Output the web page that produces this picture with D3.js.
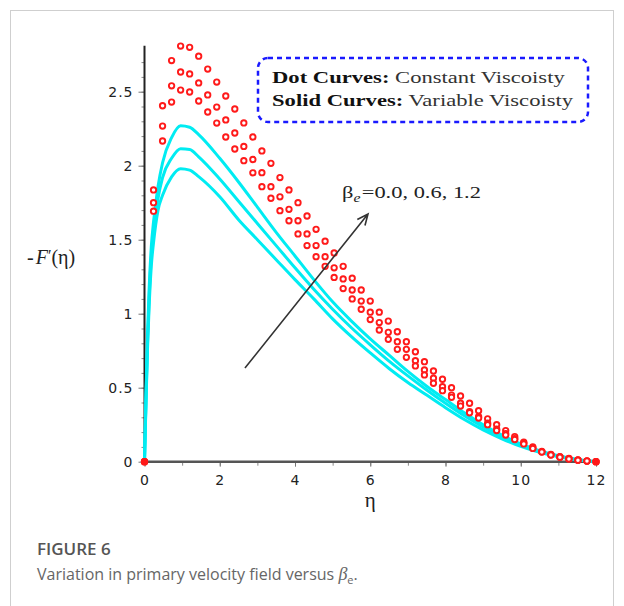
<!DOCTYPE html>
<html>
<head>
<meta charset="utf-8">
<script src="https://cdn.jsdelivr.net/npm/d3@7"></script>
<style>
  body { margin: 0; background: #fff; }
  svg { display: block; }
</style>
</head>
<body>
<svg id="fig" width="624" height="606"></svg>
<script>
// ---- data ---------------------------------------------------------------
// constant-viscosity solutions, sampled on a uniform eta grid
const dotEta = [0, 0.24, 0.48, 0.72, 0.96, 1.2, 1.44, 1.68, 1.92, 2.16, 2.4, 2.64, 2.88, 3.12, 3.36,
  3.6, 3.84, 4.08, 4.32, 4.56, 4.8, 5.04, 5.28, 5.52, 5.76, 6.0, 6.24, 6.48, 6.72, 6.96, 7.2,
  7.44, 7.68, 7.92, 8.16, 8.4, 8.64, 8.88, 9.12, 9.36, 9.6, 9.84, 10.08, 10.32, 10.56, 10.8,
  11.04, 11.28, 11.52, 11.76, 12.0];
const dotHigh = [0, 1.836, 2.405, 2.71, 2.808, 2.80, 2.74, 2.653, 2.565, 2.471, 2.383, 2.289, 2.194, 2.10, 2.016,
  1.92, 1.836, 1.75, 1.66, 1.57, 1.49, 1.41, 1.32, 1.24, 1.16, 1.085, 1.01, 0.95, 0.878, 0.811, 0.743,
  0.676, 0.613, 0.557, 0.50, 0.444, 0.395, 0.345, 0.29, 0.25, 0.21, 0.17, 0.132, 0.10, 0.07, 0.05,
  0.034, 0.022, 0.012, 0.005, 0];
const dotMid = [0, 1.75, 2.268, 2.54, 2.633, 2.62, 2.559, 2.478, 2.396, 2.309, 2.221, 2.13, 2.042, 1.953, 1.858,
  1.79, 1.705, 1.628, 1.539, 1.46, 1.385, 1.31, 1.235, 1.16, 1.085, 1.01, 0.94, 0.874, 0.811, 0.759, 0.682,
  0.62, 0.564, 0.507, 0.45, 0.395, 0.338, 0.304, 0.26, 0.22, 0.19, 0.155, 0.125, 0.095, 0.067, 0.047,
  0.032, 0.02, 0.011, 0.004, 0];
const dotLow = [0, 1.693, 2.167, 2.43, 2.511, 2.498, 2.437, 2.363, 2.288, 2.194, 2.113, 2.034, 1.952, 1.858, 1.78,
  1.696, 1.628, 1.539, 1.46, 1.385, 1.32, 1.245, 1.17, 1.10, 1.03, 0.96, 0.89, 0.827, 0.759, 0.705, 0.647,
  0.586, 0.53, 0.48, 0.435, 0.376, 0.33, 0.295, 0.25, 0.21, 0.18, 0.15, 0.12, 0.09, 0.065, 0.045,
  0.03, 0.019, 0.01, 0.004, 0];

// variable-viscosity solutions for beta_e = 0.0, 0.6, 1.2
const solidEta = [0, 0.04, 0.08, 0.12, 0.18, 0.24, 0.36, 0.48, 0.72, 0.96, 1.2, 1.44, 2.0, 2.5, 3.0,
  3.5, 4.0, 4.5, 5.0, 5.5, 6.0, 6.5, 7.0, 7.5, 8.0, 8.5, 9.0, 9.5, 10.0, 10.5, 11.0, 11.5, 12.0];
const solidBeta00 = [0, 0.40, 0.76, 1.03, 1.32, 1.48, 1.70, 1.80, 1.925, 1.98, 1.97, 1.926, 1.79, 1.635, 1.50,
  1.365, 1.23, 1.10, 0.965, 0.845, 0.735, 0.63, 0.535, 0.45, 0.365, 0.285, 0.215, 0.155, 0.103, 0.063, 0.033, 0.013, 0];
const solidBeta06 = [0, 0.42, 0.80, 1.08, 1.38, 1.55, 1.78, 1.92, 2.05, 2.115, 2.11, 2.06, 1.91, 1.76, 1.61,
  1.46, 1.31, 1.165, 1.03, 0.905, 0.79, 0.68, 0.58, 0.485, 0.395, 0.31, 0.235, 0.17, 0.115, 0.07, 0.037, 0.014, 0];
const solidBeta12 = [0, 0.45, 0.85, 1.15, 1.45, 1.62, 1.86, 2.02, 2.19, 2.27, 2.26, 2.21, 2.05, 1.89, 1.72,
  1.55, 1.39, 1.23, 1.08, 0.95, 0.83, 0.72, 0.61, 0.51, 0.42, 0.33, 0.25, 0.18, 0.12, 0.075, 0.04, 0.015, 0];

const betaValues = ["0.0", "0.6", "1.2"];
const xTickValues = [0, 2, 4, 6, 8, 10, 12];
const yTickValues = [0, 0.5, 1, 1.5, 2, 2.5];
const yTickLabels = ["0", "0.5", "1", "1.5", "2", "2.5"];

// ---- layout -------------------------------------------------------------
const svg = d3.select("#fig");
const x = d3.scaleLinear().domain([0, 12]).range([144.5, 596]);
const y = d3.scaleLinear().domain([0, 2.5]).range([461.7, 91.7]);
const yTop = 2.81;

// outer frame of the figure panel
svg.append("rect")
  .attr("x", 10.5).attr("y", 10.5).attr("width", 603).attr("height", 640)
  .attr("fill", "none").attr("stroke", "#cfcfcf").attr("stroke-width", 1);

// ---- axes ---------------------------------------------------------------
const tickFont = "'DejaVu Sans', sans-serif";

// minor ticks
svg.append("g").attr("transform", `translate(0,${y(0)})`)
  .call(d3.axisBottom(x).tickValues(d3.range(0, 13, 1)).tickSize(4).tickFormat(""))
  .call(g => g.select(".domain").remove())
  .call(g => g.selectAll("line").attr("stroke", "#8a8a8a"));
svg.append("g").attr("transform", `translate(${x(0)},0)`)
  .call(d3.axisLeft(y).tickValues(d3.range(0, 28).map(i => i / 10)).tickSize(3).tickFormat(""))
  .call(g => g.select(".domain").remove())
  .call(g => g.selectAll("line").attr("stroke", "#8a8a8a"));

// major ticks with labels
svg.append("g").attr("transform", `translate(0,${y(0)})`)
  .call(d3.axisBottom(x).tickValues(xTickValues).tickSize(5).tickPadding(8).tickFormat(d3.format("d")))
  .call(g => g.select(".domain").remove())
  .call(g => g.selectAll("line").attr("stroke", "#777"))
  .call(g => g.selectAll("text").attr("font-family", tickFont).attr("font-size", 14)
    .attr("fill", "#222").attr("letter-spacing", "1px"));
svg.append("g").attr("transform", `translate(${x(0)},0)`)
  .call(d3.axisLeft(y).tickValues(yTickValues).tickSize(6).tickPadding(5)
    .tickFormat((d, i) => yTickLabels[i]))
  .call(g => g.select(".domain").remove())
  .call(g => g.selectAll("line").attr("stroke", "#777"))
  .call(g => g.selectAll("text").attr("font-family", tickFont).attr("font-size", 14)
    .attr("fill", "#222").attr("letter-spacing", "1px"));

// axis lines
svg.append("line")
  .attr("x1", x(0)).attr("x2", x(12)).attr("y1", y(0)).attr("y2", y(0))
  .attr("stroke", "#555").attr("stroke-width", 2.5);
svg.append("line")
  .attr("x1", x(0)).attr("x2", x(0)).attr("y1", y(0)).attr("y2", y(yTop))
  .attr("stroke", "#222").attr("stroke-width", 2);

// axis titles
const yTitle = svg.append("text")
  .attr("x", 27).attr("y", 264)
  .attr("font-family", "'Liberation Serif', serif").attr("font-size", 20).attr("fill", "#222");
yTitle.append("tspan").text("-");
yTitle.append("tspan").attr("font-style", "italic").attr("dx", 2).text("F");
yTitle.append("tspan").attr("font-size", 16).attr("dy", -3).text("\u2032");
yTitle.append("tspan").attr("dy", 3).text("(\u03B7)");

svg.append("text")
  .attr("x", x(6)).attr("y", 507).attr("text-anchor", "middle")
  .attr("font-family", "'Liberation Serif', serif").attr("font-size", 21).attr("fill", "#222")
  .text("\u03B7");

// ---- curves -------------------------------------------------------------
const line = d3.line()
  .x(d => x(d[0])).y(d => y(d[1]))
  .curve(d3.curveMonotoneX);

const solidSeries = [solidBeta00, solidBeta06, solidBeta12];
svg.append("g").selectAll("path")
  .data(solidSeries)
  .join("path")
  .attr("d", vals => line(solidEta.map((e, i) => [e, vals[i]])))
  .attr("fill", "none")
  .attr("stroke", "#00ecf2")
  .attr("stroke-width", 3)
  .attr("stroke-linejoin", "round");

const dotSeries = [dotHigh, dotMid, dotLow];
const dotPoints = dotSeries.flatMap(vals => dotEta.map((e, i) => [e, vals[i]]));
svg.append("g").selectAll("circle")
  .data(dotPoints)
  .join("circle")
  .attr("cx", d => x(d[0]))
  .attr("cy", d => y(d[1]))
  .attr("r", 2.7)
  .attr("fill", d => d[1] === 0 ? "#ff1a1a" : "#fff")
  .attr("stroke", "#ff1a1a")
  .attr("stroke-width", 1.9);

// ---- annotation arrow ---------------------------------------------------
const arrowFrom = [2.67, 0.633];
const arrowTo = [5.94, 1.674];
const ax1 = x(arrowFrom[0]), ay1 = y(arrowFrom[1]);
const ax2 = x(arrowTo[0]), ay2 = y(arrowTo[1]);
const ang = Math.atan2(ay2 - ay1, ax2 - ax1);
const headLen = 12, headSpread = 0.42;
svg.append("path")
  .attr("d", `M${ax1},${ay1}L${ax2},${ay2}` +
    `M${ax2 - headLen * Math.cos(ang - headSpread)},${ay2 - headLen * Math.sin(ang - headSpread)}` +
    `L${ax2},${ay2}` +
    `L${ax2 - headLen * Math.cos(ang + headSpread)},${ay2 - headLen * Math.sin(ang + headSpread)}`)
  .attr("fill", "none").attr("stroke", "#333").attr("stroke-width", 1.6);

const betaLabel = svg.append("text")
  .attr("transform", "translate(342,198) scale(1.32,1)")
  .attr("font-family", "'Liberation Serif', serif").attr("font-size", 17).attr("fill", "#222");
betaLabel.append("tspan").text("\u03B2");
betaLabel.append("tspan").attr("font-style", "italic").attr("font-size", 12).attr("dy", 4).text("e");
betaLabel.append("tspan").attr("dy", -4).attr("dx", 1).text("=" + betaValues.join(", "));

// ---- legend box ---------------------------------------------------------
svg.append("rect")
  .attr("x", 258).attr("y", 58).attr("width", 330).attr("height", 64).attr("rx", 10)
  .attr("fill", "none").attr("stroke", "#1a1aff").attr("stroke-width", 2.5)
  .attr("stroke-dasharray", "5,4");

const legendRows = [
  ["Dot Curves:", " Constant Viscoisty", 83],
  ["Solid Curves:", " Variable Viscoisty", 106]
];
legendRows.forEach(([head, rest, ty]) => {
  const t = svg.append("text")
    .attr("transform", `translate(272,${ty}) scale(1.33,1)`)
    .attr("font-family", "'Liberation Serif', serif").attr("font-size", 17);
  t.append("tspan").attr("font-weight", "bold").attr("fill", "#111").text(head);
  t.append("tspan").attr("fill", "#333").text(rest);
});

// ---- caption ------------------------------------------------------------
svg.append("text")
  .attr("x", 37).attr("y", 555)
  .attr("font-family", "'Open Sans', sans-serif").attr("font-size", 17).attr("font-weight", 600)
  .attr("fill", "#555").text("FIGURE 6");
const cap = svg.append("text")
  .attr("x", 37).attr("y", 580)
  .attr("font-family", "'Open Sans', sans-serif").attr("font-size", 16).attr("fill", "#666");
cap.append("tspan").text("Variation in primary velocity field versus ");
cap.append("tspan").attr("font-family", "'Liberation Serif', serif").attr("font-style", "italic")
  .attr("font-size", 18).text("\u03B2");
cap.append("tspan").attr("font-size", 11).attr("dy", 4).text("e");
cap.append("tspan").attr("dy", -4).text(".");
</script>
</body>
</html>
